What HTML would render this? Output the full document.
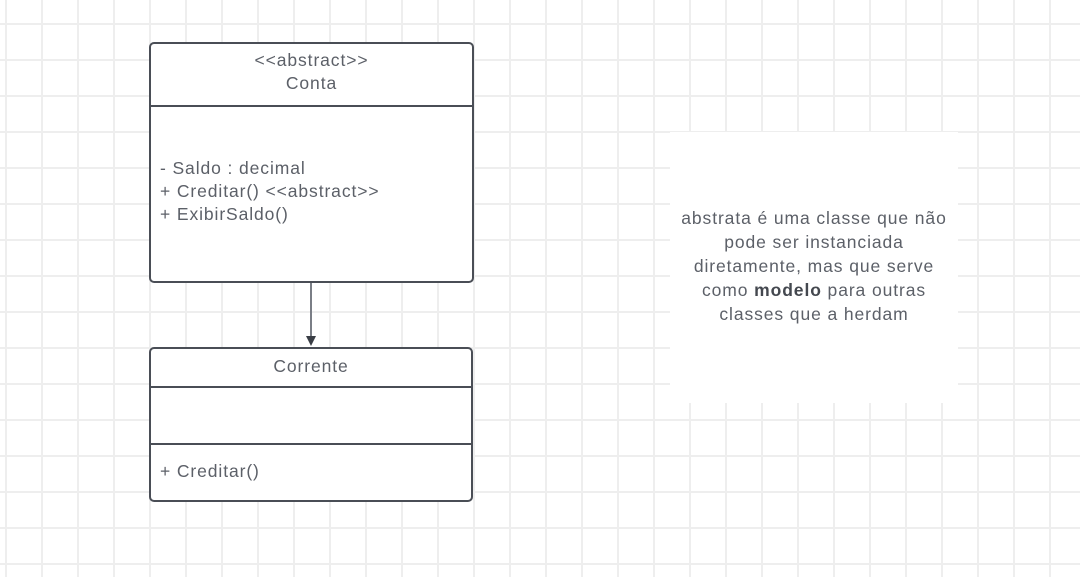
<!DOCTYPE html>
<html><head><meta charset="utf-8"><style>
html,body{margin:0;padding:0;}
body{width:1080px;height:577px;position:relative;overflow:hidden;background:#fff;
background-image:linear-gradient(to right,#eeeeee 0,#eeeeee 2px,transparent 2px),linear-gradient(to bottom,#eeeeee 0,#eeeeee 2px,transparent 2px);
background-size:36px 36px;background-position:5px 23px;
font-family:"Liberation Sans",Arial,sans-serif;color:#5c6068;font-size:17.5px;letter-spacing:0.9px;}
.box{position:absolute;border:2px solid #4a4e56;border-radius:5px;background:#fff;box-sizing:border-box;}
.hr{position:absolute;left:0;right:0;height:0;border-top:2px solid #4a4e56;}
.t{position:absolute;white-space:nowrap;line-height:23px;}
</style></head><body>
<div class="box" style="left:149px;top:42px;width:325px;height:241px;">
 <div class="t" style="left:0;right:0;top:5px;text-align:center;">&lt;&lt;abstract&gt;&gt;<br>Conta</div>
 <div class="hr" style="top:61px"></div>
 <div class="t" style="left:9px;top:113px;">- Saldo : decimal<br>+ Creditar() &lt;&lt;abstract&gt;&gt;<br>+ ExibirSaldo()</div>
</div>
<div style="position:absolute;left:310px;top:283px;width:2px;height:57px;background:#7a7e86"></div>
<div style="position:absolute;left:306px;top:336px;width:0;height:0;border-left:5px solid transparent;border-right:5px solid transparent;border-top:10px solid #3a3e46"></div>
<div class="box" style="left:149px;top:347px;width:324px;height:155px;">
 <div class="t" style="left:0;right:0;top:6px;text-align:center;">Corrente</div>
 <div class="hr" style="top:37px"></div>
 <div class="hr" style="top:94px"></div>
 <div class="t" style="left:9px;top:111px;">+ Creditar()</div>
</div>
<div style="position:absolute;left:670px;top:132px;width:288px;height:271px;background:#fff;"></div>
<div class="t" style="left:660px;width:308px;top:206px;text-align:center;line-height:24px;">abstrata é uma classe que não<br>pode ser instanciada<br>diretamente, mas que serve<br>como <b style="color:#44484f">modelo</b> para outras<br>classes que a herdam</div>
</body></html>
